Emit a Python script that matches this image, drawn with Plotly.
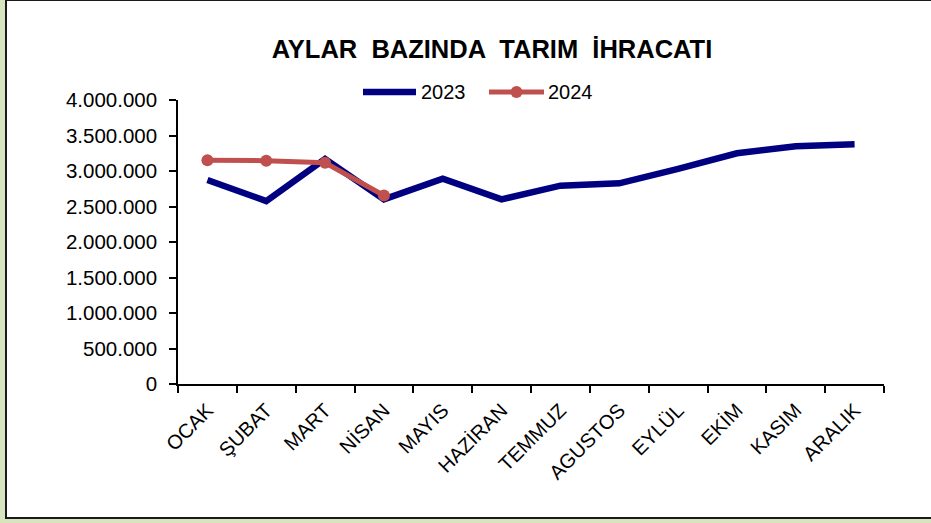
import plotly.graph_objects as go

months = ["OCAK", "ŞUBAT", "MART", "NİSAN", "MAYIS", "HAZİRAN", "TEMMUZ",
          "AGUSTOS", "EYLÜL", "EKİM", "KASIM", "ARALIK"]
exports_2023 = [2873000, 2577000, 3170000, 2600000, 2893000, 2600000, 2793000,
                2826000, 3030000, 3250000, 3350000, 3376000]
exports_2024 = [3152000, 3145000, 3116000, 2655000]
series_names = ["2023", "2024"]
series_colors = ["#000080", "#c0504d"]
y_ticks = [0, 500000, 1000000, 1500000, 2000000, 2500000, 3000000, 3500000, 4000000]
y_tick_labels = ["0", "500.000", "1.000.000", "1.500.000", "2.000.000", "2.500.000",
                 "3.000.000", "3.500.000", "4.000.000"]

W, H = 931, 523
L, R, T, B = 178, 884, 100, 384
pw, ph = R - L, B - T

def px(x):
    return (x - L) / pw

def py(y):
    return (B - y) / ph

fig = go.Figure()
fig.add_trace(go.Scatter(
    x=months, y=exports_2023, name=series_names[0], mode="lines",
    line=dict(color=series_colors[0], width=6.5),
))
fig.add_trace(go.Scatter(
    x=months[:len(exports_2024)], y=exports_2024, name=series_names[1], mode="lines+markers",
    line=dict(color=series_colors[1], width=5),
    marker=dict(color=series_colors[1], size=12, symbol="circle"),
))

font = "Liberation Sans, Arial, sans-serif"

# legend drawn with shapes + text so the sample lines match the original length
legend_y = 92
shapes = [dict(
    type="rect", xref="paper", yref="paper",
    x0=px(6), x1=px(940), y0=py(518), y1=py(0),
    line=dict(color="#1a1a1a", width=2), fillcolor="white", layer="below",
)]
shapes.append(dict(type="line", xref="paper", yref="paper",
                   x0=px(363), x1=px(416), y0=py(legend_y), y1=py(legend_y),
                   line=dict(color=series_colors[0], width=6.5)))
shapes.append(dict(type="line", xref="paper", yref="paper",
                   x0=px(489), x1=px(544), y0=py(legend_y), y1=py(legend_y),
                   line=dict(color=series_colors[1], width=5)))
shapes.append(dict(type="circle", xref="paper", yref="paper",
                   x0=px(510.5), x1=px(522.5), y0=py(legend_y + 6), y1=py(legend_y - 6),
                   line=dict(color=series_colors[1], width=0), fillcolor=series_colors[1]))
annotations = [
    dict(text=series_names[0], xref="paper", yref="paper", x=px(419), y=py(legend_y),
         xanchor="left", yanchor="middle", showarrow=False,
         font=dict(family=font, size=20, color="black")),
    dict(text=series_names[1], xref="paper", yref="paper", x=px(546), y=py(legend_y),
         xanchor="left", yanchor="middle", showarrow=False,
         font=dict(family=font, size=20, color="black")),
]

fig.update_layout(
    width=W, height=H,
    margin=dict(l=L, r=W - R, t=T, b=H - B),
    paper_bgcolor="#d7e4bd",
    plot_bgcolor="white",
    font=dict(family=font, size=20, color="black"),
    title=dict(
        text="<b>AYLAR \u00a0BAZINDA \u00a0TARIM \u00a0İHRACATI</b>",
        x=492 / W, xanchor="center", y=1 - 49 / H, yanchor="middle",
        font=dict(family=font, size=25.5, color="black"),
    ),
    showlegend=False,
    shapes=shapes,
    annotations=annotations,
)
fig.update_xaxes(
    type="category", range=[-0.5, 11.5], tickson="boundaries",
    showline=True, linecolor="black", linewidth=1.5,
    ticks="outside", ticklen=7, tickcolor="black", tickwidth=1.5,
    tickangle=-45, showgrid=False, zeroline=False,
    tickfont=dict(family=font, size=20), ticklabelstandoff=5,
)
fig.update_yaxes(
    range=[0, 4000000], tickvals=y_ticks, ticktext=y_tick_labels,
    showline=True, linecolor="black", linewidth=1.5,
    ticks="outside", ticklen=7, tickcolor="black", tickwidth=1.5,
    showgrid=False, zeroline=False, ticklabelstandoff=8,
    tickfont=dict(family=font, size=20.5),
)

fig.write_html("out.html")
